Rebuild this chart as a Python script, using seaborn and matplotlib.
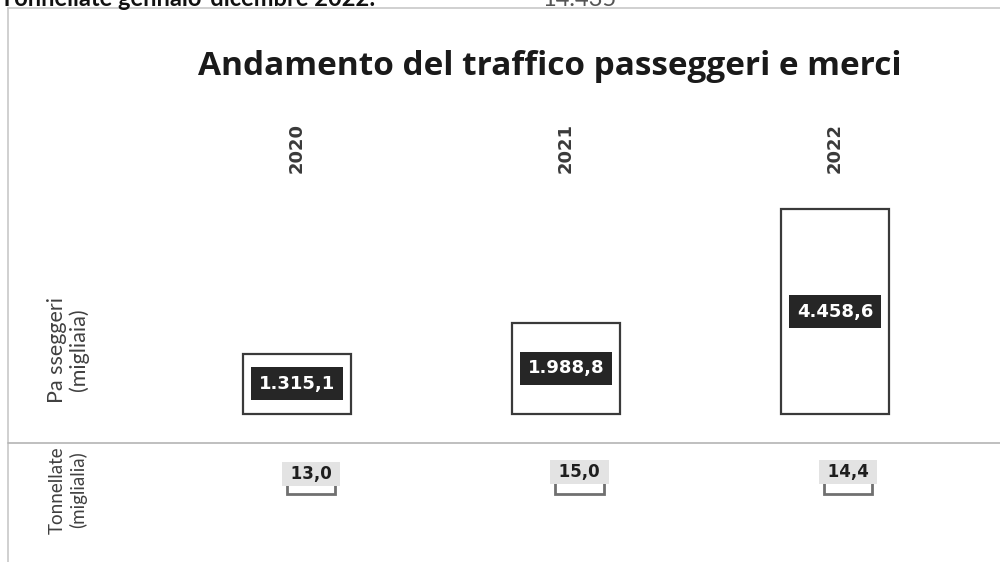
import numpy as np
import pandas as pd
import matplotlib
matplotlib.use("Agg")
import matplotlib.pyplot as plt
import matplotlib.transforms as mtransforms
from matplotlib.lines import Line2D
import seaborn as sns

# ---------------- data ----------------
years = ["2020", "2021", "2022"]
passeggeri = [1315.1, 1988.8, 4458.6]      # migliaia
tonnellate = [13.0, 15.0, 14.4]            # migliaia
title = "Andamento del traffico passeggeri e merci"
row_labels = ["Pa sseggeri\n(migliaia)", "Tonnellate\n(miglialia)"]
header_texts = ["Tonnellate gennaio-dicembre 2022:", "14.435"]


def fmt_it(v):
    s = f"{v:,.1f}"
    return s.replace(",", "X").replace(".", ",").replace("X", ".")


sns.set_theme(style="white")
plt.rcParams["font.family"] = ["Lato", "DejaVu Sans"]

W, H = 1000, 562
fig = plt.figure(figsize=(W / 100, H / 100), dpi=100)
fig.patch.set_facecolor("white")


def fx(px):
    return px / W


def fy(py):
    return 1 - py / H


# ---------------- passenger panel ----------------
top_y, sep_y, base1 = 8, 443, 414
ax1 = fig.add_axes([fx(8), fy(sep_y), fx(W - 8), (sep_y - top_y) / H])
df1 = pd.DataFrame({"anno": years, "valore": passeggeri})
sns.barplot(data=df1, x="anno", y="valore", ax=ax1, color="white",
            edgecolor="#3a3a3a", linewidth=1.6, width=0.40, saturation=1)
unit1 = 269.0
c0 = 297
ax1.set_xlim(-(c0 - 8) / unit1, 2 + (W - (c0 + 2 * unit1)) / unit1)
scale1 = 21.8
ax1.set_ylim(-(sep_y - base1) * scale1, (base1 - top_y) * scale1)
ax1.set_axis_off()

for i, v in enumerate(passeggeri):
    ax1.text(i, v / 2, fmt_it(v), ha="center", va="center", color="white",
             fontsize=13, fontweight="bold", family=["DejaVu Sans"],
             bbox=dict(boxstyle="square,pad=0.42", fc="#262626", ec="none"),
             zorder=5)

blend1 = mtransforms.blended_transform_factory(ax1.transData, fig.transFigure)
for i, y in enumerate(years):
    ax1.text(i, fy(148), y, transform=blend1, rotation=90, ha="center",
             va="center", fontsize=13, fontweight="bold",
             family=["DejaVu Sans"], color="#3a3a3a")

# ---------------- tonnellate panel ----------------
base2 = 494
ax2 = fig.add_axes([fx(8), 0, fx(W - 8), (H - sep_y) / H])
df2 = pd.DataFrame({"anno": years, "valore": tonnellate})
sns.barplot(data=df2, x="anno", y="valore", ax=ax2, color="white",
            edgecolor="#707070", linewidth=2.0, width=0.18, saturation=1)
unit2 = 268.5
c0b = 311
ax2.set_xlim(-(c0b - 8) / unit2, 2 + (W - (c0b + 2 * unit2)) / unit2)
scale2 = 0.94
ax2.set_ylim(-(H - base2) * scale2, (base2 - sep_y) * scale2)
ax2.set_axis_off()

for i, v in enumerate(tonnellate):
    ax2.annotate(" " + fmt_it(v) + " ", xy=(i, v), xytext=(0, 4.5),
                 textcoords="offset points", ha="center", va="center",
                 fontsize=12, fontweight="bold", family=["DejaVu Sans"],
                 color="#1e1e1e",
                 bbox=dict(boxstyle="square,pad=0.18", fc="#e3e3e3", ec="none"),
                 zorder=5)

# ---------------- frame lines ----------------
fcol = "#c8c8c8"
fig.add_artist(Line2D([fx(8), 1], [fy(top_y), fy(top_y)], color=fcol, lw=1.2))
fig.add_artist(Line2D([fx(8), fx(8)], [fy(top_y), 0], color=fcol, lw=1.2))
fig.add_artist(Line2D([fx(8), 1], [fy(sep_y), fy(sep_y)], color="#b4b4b4", lw=1.2))

# ---------------- texts ----------------
fig.text(fx(550), fy(75), title, ha="center", va="baseline", fontsize=24,
         fontweight="bold", family=["Open Sans", "DejaVu Sans"],
         color="#1a1a1a")

fig.text(fx(68), fy(350), row_labels[0], rotation=90, ha="center",
         va="center", fontsize=15.5, color="#404040", linespacing=1.1,
         family=["Lato", "DejaVu Sans"])
fig.text(fx(68), fy(490), row_labels[1], rotation=90, ha="center",
         va="center", fontsize=13.5, color="#404040", linespacing=1.2,
         family=["Lato", "DejaVu Sans"])

fig.text(fx(0), fy(6), header_texts[0], ha="left", va="baseline",
         fontsize=17, fontweight="bold", color="#111111")
fig.text(fx(542), fy(6), header_texts[1], ha="left", va="baseline",
         fontsize=17, color="#555555")

fig.savefig("out.png", dpi=100, facecolor="white")
